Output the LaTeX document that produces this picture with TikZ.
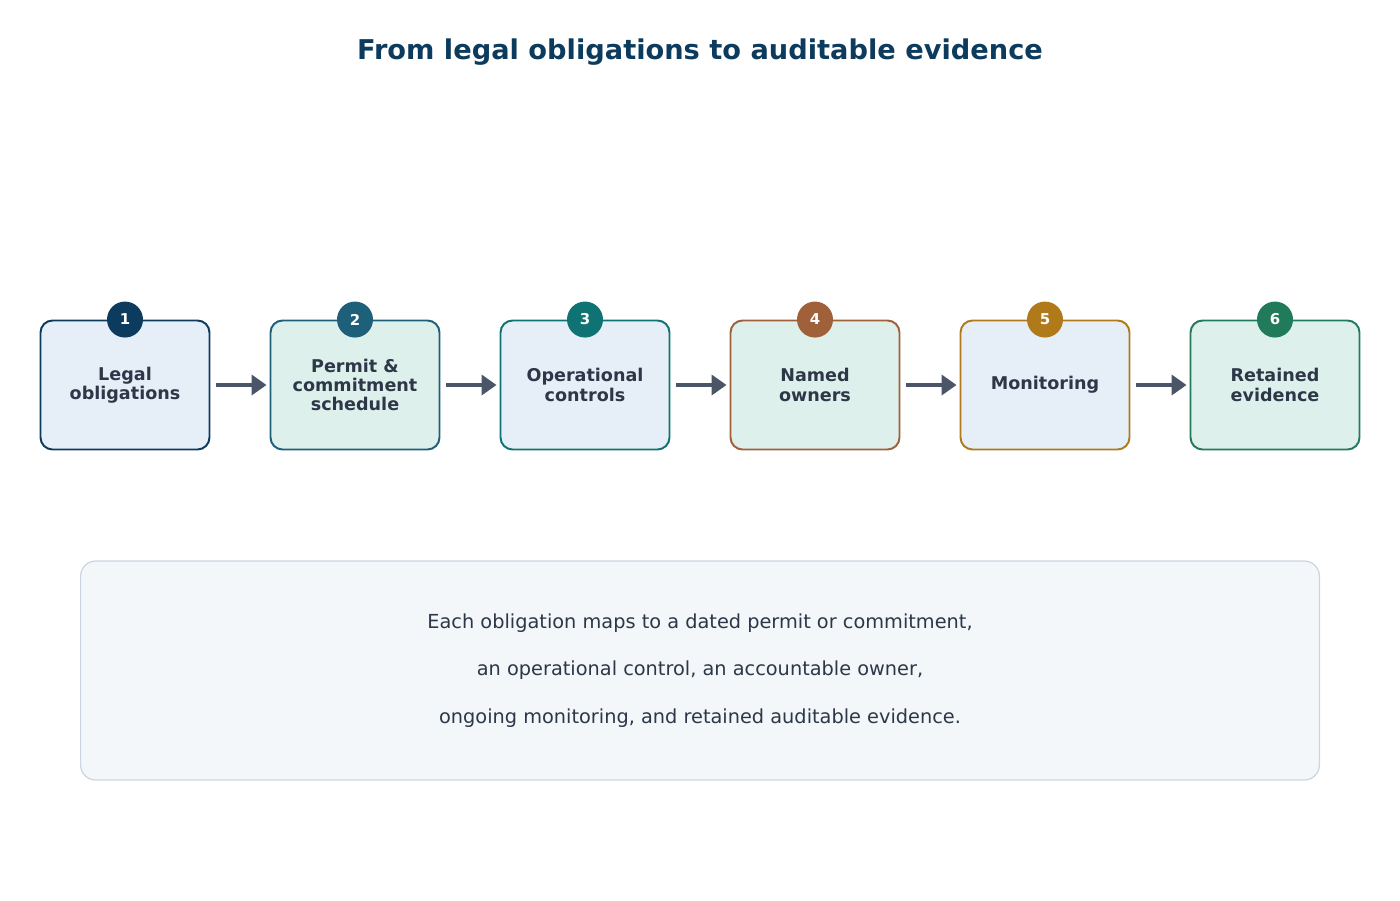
\documentclass[tikz,border=0pt]{standalone}
\usepackage{fontspec}
\setmainfont{DejaVu Sans}
\usetikzlibrary{arrows.meta,positioning}
\definecolor{titleblue}{HTML}{0D3B5E}
\definecolor{textdark}{HTML}{2D3748}
\definecolor{arrowgray}{HTML}{4A5568}
\definecolor{fillblue}{HTML}{E6EFF7}
\definecolor{fillgreen}{HTML}{DEF0EC}
\definecolor{cA}{HTML}{0D3B5E}
\definecolor{cB}{HTML}{1E5F7A}
\definecolor{cC}{HTML}{0F7373}
\definecolor{cD}{HTML}{A0603A}
\definecolor{cE}{HTML}{B07A1A}
\definecolor{cF}{HTML}{217A5A}
\definecolor{notefill}{HTML}{F3F7FA}
\definecolor{noteline}{HTML}{CBD5E0}
\begin{document}
\begin{tikzpicture}
  [
  x=0.02cm, y=-0.02cm, font=\bfseries\fontsize{10}{11}\selectfont,
  stage/.style={rectangle, minimum height=2.58cm, minimum width=3.38cm, line width=1.1pt, rounded corners=0.24cm, align=center, text=textdark},
  badge/.style={circle, minimum size=0.72cm, inner sep=0pt, text=white, font=\bfseries\fontsize{8.5}{9}\selectfont},
  flow/.style={-{Triangle[length=0.3cm,width=0.4cm]}, line width=2.2pt, draw=arrowgray}
  ]
\useasboundingbox (0,0) rectangle (1400,900);

\node[font=\bfseries\fontsize{15.5}{18}\selectfont, text=titleblue] (title) at (700,52) {From legal obligations to auditable evidence};

\foreach \i/\c/\f/\t in {1/cA/fillblue/{Legal\\obligations},
                         2/cB/fillgreen/{Permit \&\\commitment\\schedule},
                         3/cC/fillblue/{Operational\\controls},
                         4/cD/fillgreen/{Named\\owners},
                         5/cE/fillblue/{Monitoring},
                         6/cF/fillgreen/{Retained\\evidence}} {
  \node[stage, draw=\c, fill=\f] (s\i) at (125+230*\i-230,385) {\t};
  \node[badge, fill=\c] (b\i) at (s\i.north) {\i};
}

\foreach \a/\b in {1/2,2/3,3/4,4/5,5/6} {
  \draw[flow] ([xshift=0.12cm]s\a.east) -- ([xshift=-0.06cm]s\b.west);
}

\node[rectangle, draw=noteline, fill=notefill, line width=0.7pt, rounded corners=0.3cm, minimum width=24.78cm, minimum height=4.38cm, align=center, text=textdark, font=\fontsize{11}{27.2}\selectfont] (note) at (700,670.5)
  {Each obligation maps to a dated permit or commitment,\\an operational control, an accountable owner,\\ongoing monitoring, and retained auditable evidence.};

\end{tikzpicture}
\end{document}
